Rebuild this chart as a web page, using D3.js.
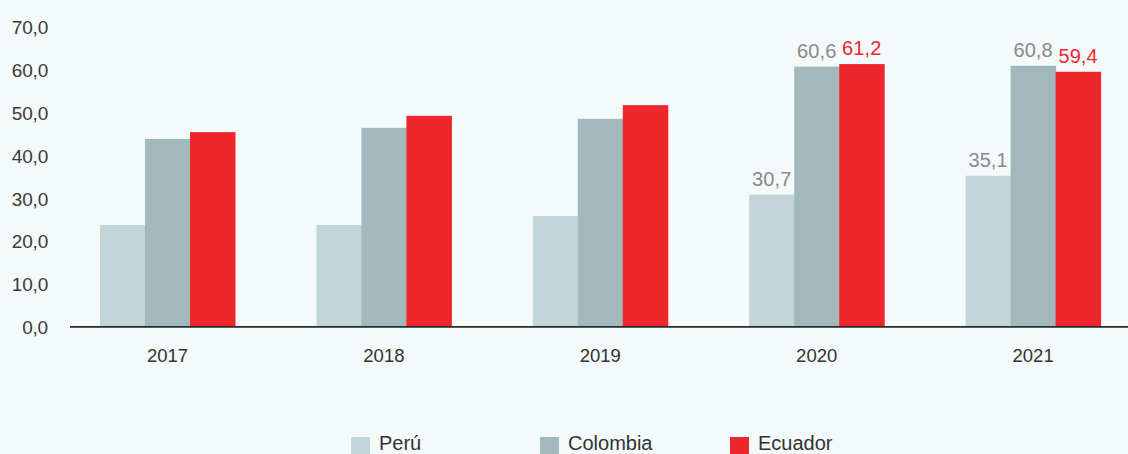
<!DOCTYPE html>
<html>
<head>
<meta charset="utf-8">
<script src="https://cdn.jsdelivr.net/npm/d3@7"></script>
<style>
  html, body { margin: 0; padding: 0; background: #f4f9f9; }
  svg { display: block; font-family: "Liberation Sans", Arial, Helvetica, sans-serif; }
</style>
</head>
<body>
<svg id="chart" width="1128" height="454"></svg>
<script>
const years = ["2017", "2018", "2019", "2020", "2021"];
const seriesNames = ["Perú", "Colombia", "Ecuador"];
const peru = [23.6, 23.6, 25.7, 30.7, 35.1];
const colombia = [43.7, 46.3, 48.4, 60.6, 60.8];
const ecuador = [45.3, 49.1, 51.6, 61.2, 59.4];
const yTicks = [0, 10, 20, 30, 40, 50, 60, 70];
const labelledYears = ["2020", "2021"];
const colors = ["#c2d5d8", "#a1b8bc", "#ee272d"];
const labelColors = ["#8a8a8a", "#8a8a8a", "#ee272d"];

const series = [peru, colombia, ecuador];
const svg = d3.select("#chart");
const W = 1128, H = 454;
const baseY = 326;

const y = d3.scaleLinear().domain([0, 70]).range([baseY, baseY - 70 * 4.28]);
const x = d3.scaleBand().domain(years).range([59.3, 59.3 + 216.4 * 5]).padding(0);
const groupW = 135;
const xs = d3.scaleBand().domain(seriesNames).range([0, groupW]).padding(0);
const fmt = v => d3.format(".1f")(v).replace(".", ",");

// y tick labels
svg.append("g").selectAll("text").data(yTicks).join("text")
  .attr("x", 48).attr("y", d => y(d) + 8)
  .attr("text-anchor", "end")
  .attr("font-size", 19).attr("fill", "#3a3a3a")
  .attr("letter-spacing", -0.2)
  .text(d => fmt(d));

// bars
const groups = svg.append("g").selectAll("g").data(years).join("g")
  .attr("transform", d => `translate(${x(d) + (x.bandwidth() - groupW) / 2},0)`);

groups.selectAll("rect")
  .data((yr, i) => seriesNames.map((s, j) => ({ s, j, v: series[j][i], yr })))
  .join("rect")
  .attr("x", d => xs(d.s))
  .attr("width", xs.bandwidth() + 0.5)
  .attr("y", d => y(d.v))
  .attr("height", d => baseY - y(d.v))
  .attr("fill", d => colors[d.j]);

// value labels
groups.selectAll("text")
  .data((yr, i) => labelledYears.includes(yr) ? seriesNames.map((s, j) => ({ s, j, v: series[j][i] })) : [])
  .join("text")
  .attr("x", d => xs(d.s) + xs.bandwidth() / 2)
  .attr("y", d => y(d.v) - 9)
  .attr("text-anchor", "middle")
  .attr("font-size", 20).attr("letter-spacing", 0.1)
  .attr("fill", d => labelColors[d.j])
  .text(d => fmt(d.v));

// baseline axis line
svg.append("line")
  .attr("x1", 70).attr("x2", W)
  .attr("y1", baseY + 0.8).attr("y2", baseY + 0.8)
  .attr("stroke", "#2a2a2a").attr("stroke-width", 1.8);

// x labels
svg.append("g").selectAll("text").data(years).join("text")
  .attr("x", d => x(d) + x.bandwidth() / 2)
  .attr("y", 362)
  .attr("text-anchor", "middle")
  .attr("font-size", 18.5).attr("fill", "#333")
  .text(d => d);

// legend
const legendX = [351, 540, 730];
const lg = svg.append("g").selectAll("g").data(seriesNames).join("g")
  .attr("transform", (d, i) => `translate(${legendX[i]},0)`);
lg.append("rect").attr("x", 0).attr("y", 437).attr("width", 19).attr("height", 19)
  .attr("fill", (d, i) => colors[i]);
lg.append("text").attr("x", 28).attr("y", 450)
  .attr("font-size", 20).attr("fill", "#333")
  .text(d => d);
</script>
</body>
</html>
